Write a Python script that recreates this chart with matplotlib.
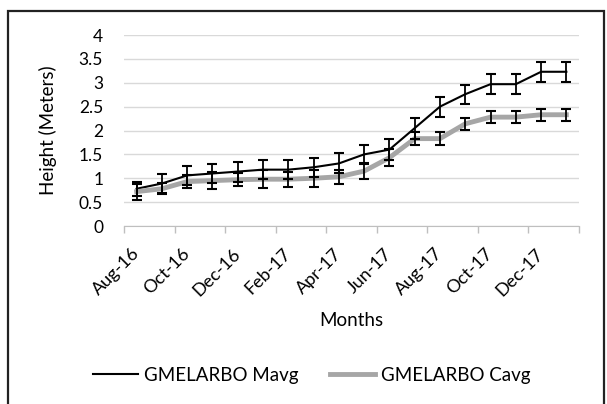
import numpy as np
from matplotlib import pyplot as plt
from matplotlib.patches import Rectangle
from matplotlib.ticker import FuncFormatter

plt.rcParams['font.family'] = ['Lato', 'DejaVu Sans']

# monthly heights (m) with error bars
months = ['Aug-16', 'Sep-16', 'Oct-16', 'Nov-16', 'Dec-16', 'Jan-17',
          'Feb-17', 'Mar-17', 'Apr-17', 'May-17', 'Jun-17', 'Jul-17',
          'Aug-17', 'Sep-17', 'Oct-17', 'Nov-17', 'Dec-17', 'Jan-18']
mavg = [0.78, 0.89, 1.06, 1.10, 1.14, 1.18, 1.18, 1.23, 1.31, 1.50,
        1.60, 2.05, 2.50, 2.76, 2.97, 2.97, 3.23, 3.23]
mavg_err = [0.15, 0.20, 0.20, 0.20, 0.21, 0.20, 0.20, 0.20, 0.21, 0.20,
            0.22, 0.22, 0.21, 0.20, 0.21, 0.21, 0.21, 0.21]
cavg = [0.72, 0.78, 0.93, 0.95, 0.97, 0.98, 0.98, 1.00, 1.03, 1.15,
        1.43, 1.83, 1.83, 2.14, 2.28, 2.28, 2.33, 2.33]
cavg_err = [0.17, 0.12, 0.13, 0.18, 0.13, 0.19, 0.16, 0.18, 0.14, 0.17,
            0.18, 0.14, 0.13, 0.13, 0.12, 0.12, 0.13, 0.13]
yticks = [0, 0.5, 1, 1.5, 2, 2.5, 3, 3.5, 4]

W, H = 607, 404
fig = plt.figure(figsize=(W / 100, H / 100), dpi=100)
ax = fig.add_axes([124 / W, 1 - 226 / H, (579 - 124) / W, (226 - 35) / H])

x = np.arange(len(months)) + 0.5

ax.plot(x, mavg, color='black', lw=1.5, zorder=3, label='GMELARBO Mavg')
ax.plot(x, cavg, color='#a6a6a6', lw=3.5, zorder=4, label='GMELARBO Cavg')
ax.errorbar(x, mavg, yerr=mavg_err, fmt='none', ecolor='black',
            elinewidth=1.3, capsize=3.5, capthick=1.5, zorder=5)
ax.errorbar(x, cavg, yerr=cavg_err, fmt='none', ecolor='black',
            elinewidth=1.3, capsize=3.5, capthick=1.5, zorder=5)

ax.set_xlim(0, len(months))
ax.set_ylim(0, 4)
ax.set_yticks(yticks)
ax.yaxis.set_major_formatter(FuncFormatter(lambda v, p: '%g' % v))
ax.yaxis.grid(True, color='#d9d9d9', lw=1)
ax.set_axisbelow(True)

# labels every other month, boundary ticks between them
ax.set_xticks(x[::2])
ax.set_xticklabels(months[::2], rotation=45, ha='right',
                   rotation_mode='anchor', va='center')
ax.set_xticks(np.arange(0, len(months) + 1, 2), minor=True)
ax.tick_params(axis='x', which='major', length=0, pad=18, labelsize=13)
ax.tick_params(axis='x', which='minor', length=5, color='#bfbfbf', width=1)
ax.tick_params(axis='y', length=0, pad=15, labelsize=12.5)

for s in ['top', 'right', 'left']:
    ax.spines[s].set_visible(False)
ax.spines['bottom'].set_color('#bfbfbf')

ax.set_ylabel('Height (Meters)', fontsize=13.5)
ax.yaxis.set_label_coords((57 - 124) / (579 - 124), 0.5)
ax.set_xlabel('Months', fontsize=13.5)
ax.xaxis.set_label_coords(0.5, -(312 - 226) / (226 - 35))

fig.legend(loc='center', bbox_to_anchor=(312 / W, 1 - 375 / H), ncol=2,
           frameon=False, fontsize=13.5, handlelength=2.4,
           handletextpad=0.3, columnspacing=1.7)

# outer chart frame
fig.add_artist(Rectangle((8 / W, -0.2), (604 - 8) / W, 1.2 - 11 / H,
                         transform=fig.transFigure, fill=False,
                         edgecolor='#222222', lw=1.6))

fig.savefig('out.png', dpi=100)
